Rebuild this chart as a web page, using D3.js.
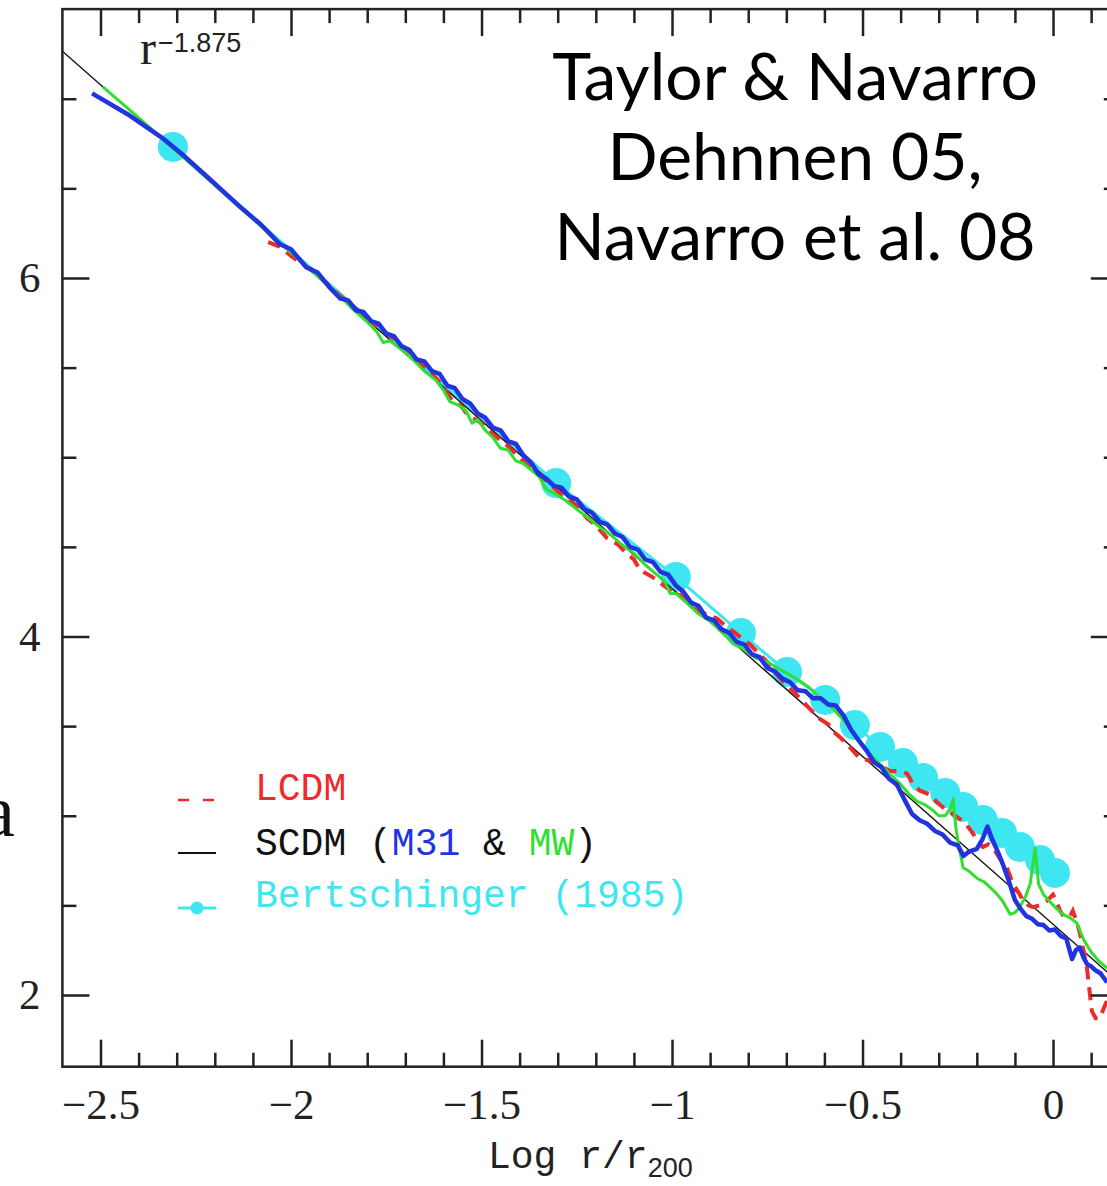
<!DOCTYPE html>
<html>
<head>
    <meta charset="utf-8">
    <title>density profile vs Log r/r200</title>
    <script src="https://cdn.jsdelivr.net/npm/d3@7"></script>
    <style>
        body { margin: 0; background: #fff; }
        svg { display: block; }
        .axis text {
            font-family: "Liberation Serif", serif;
            font-size: 43px;
            fill: #222;
        }
        .legend text {
            font-family: "Liberation Mono", monospace;
            font-size: 38px;
            white-space: pre;
        }
        .title {
            font-family: Lato, "Open Sans", sans-serif;
            font-size: 66px;
            fill: #000;
            text-anchor: middle;
        }
    </style>
</head>
<body>

<script>
    // Bertschinger (1985) self-similar solution
    var bertX = [-2.31, -1.304, -0.99, -0.819, -0.698, -0.598, -0.52, -0.454, -0.394, -0.341,
                 -0.283, -0.236, -0.184, -0.134, -0.087, -0.034, 0.005];
    var bertY = [6.731, 4.856, 4.332, 4.019, 3.802, 3.646, 3.506, 3.384, 3.294, 3.211,
                 3.127, 3.049, 2.976, 2.904, 2.826, 2.753, 2.681];

    // r^-1.875 power law
    var powerLaw = [[-2.6, 7.265], [0.17, 2.076]];

    // LCDM halo (red dashed)
    var lcdm = [[-2.06, 6.20], [-2.03, 6.175], [-1.995, 6.115], [-1.95, 6.05], [-1.906, 5.97], [-1.864, 5.89],
        [-1.83, 5.83], [-1.793, 5.76], [-1.76, 5.705], [-1.732, 5.665], [-1.70, 5.60], [-1.68, 5.555],
        [-1.64, 5.49], [-1.606, 5.41], [-1.575, 5.31], [-1.555, 5.29], [-1.538, 5.24], [-1.50, 5.19],
        [-1.47, 5.13], [-1.43, 5.06], [-1.40, 5.00], [-1.365, 4.925], [-1.33, 4.87], [-1.30, 4.81],
        [-1.276, 4.77], [-1.25, 4.725], [-1.223, 4.66], [-1.20, 4.62], [-1.171, 4.55], [-1.14, 4.51],
        [-1.118, 4.46], [-1.10, 4.43], [-1.084, 4.37], [-1.05, 4.33], [-1.013, 4.27], [-0.99, 4.25],
        [-0.971, 4.22], [-0.95, 4.18], [-0.927, 4.14], [-0.90, 4.115], [-0.882, 4.10], [-0.86, 4.06],
        [-0.84, 4.03], [-0.82, 3.995], [-0.795, 3.955], [-0.77, 3.90], [-0.751, 3.86], [-0.73, 3.80],
        [-0.709, 3.75], [-0.69, 3.71], [-0.664, 3.655], [-0.64, 3.60], [-0.612, 3.54], [-0.59, 3.51],
        [-0.577, 3.47], [-0.56, 3.44], [-0.541, 3.40], [-0.52, 3.35], [-0.507, 3.32], [-0.485, 3.31],
        [-0.462, 3.29], [-0.445, 3.27], [-0.428, 3.25], [-0.405, 3.25], [-0.383, 3.235], [-0.365, 3.17],
        [-0.349, 3.14], [-0.325, 3.12], [-0.304, 3.075], [-0.285, 3.04], [-0.27, 3.02], [-0.25, 2.99],
        [-0.236, 2.97], [-0.22, 2.93], [-0.21, 2.90], [-0.195, 2.85], [-0.184, 2.825], [-0.17, 2.84],
        [-0.157, 2.82], [-0.139, 2.76], [-0.121, 2.71], [-0.105, 2.62], [-0.09, 2.57], [-0.079, 2.53],
        [-0.065, 2.50], [-0.052, 2.49], [-0.035, 2.50], [-0.016, 2.525], [0.0, 2.56], [0.01, 2.52],
        [0.018, 2.47], [0.028, 2.44], [0.037, 2.45], [0.045, 2.44], [0.052, 2.47], [0.062, 2.41],
        [0.071, 2.34], [0.08, 2.25], [0.089, 2.15], [0.096, 2.02], [0.102, 1.91], [0.112, 1.87],
        [0.123, 1.87], [0.132, 1.92], [0.142, 1.97]];

    // SCDM M31 (blue)
    var m31 = [[-2.522, 7.03], [-2.43, 6.915], [-2.34, 6.785], [-2.28, 6.68], [-2.21, 6.545], [-2.13, 6.39],
        [-2.08, 6.30], [-2.03, 6.19], [-2.00, 6.16], [-1.96, 6.06], [-1.93, 6.03], [-1.90, 5.95],
        [-1.87, 5.885], [-1.85, 5.875], [-1.83, 5.82], [-1.81, 5.81], [-1.79, 5.76], [-1.77, 5.745],
        [-1.75, 5.69], [-1.73, 5.675], [-1.71, 5.62], [-1.69, 5.60], [-1.67, 5.545], [-1.65, 5.535],
        [-1.63, 5.48], [-1.61, 5.465], [-1.59, 5.40], [-1.57, 5.385], [-1.55, 5.325], [-1.53, 5.30],
        [-1.51, 5.245], [-1.49, 5.22], [-1.47, 5.165], [-1.45, 5.15], [-1.43, 5.09], [-1.41, 5.075],
        [-1.39, 5.01], [-1.37, 4.97], [-1.35, 4.905], [-1.33, 4.88], [-1.31, 4.84], [-1.29, 4.83],
        [-1.27, 4.78], [-1.25, 4.765], [-1.23, 4.71], [-1.21, 4.69], [-1.19, 4.64], [-1.17, 4.625],
        [-1.15, 4.575], [-1.13, 4.555], [-1.11, 4.50], [-1.09, 4.485], [-1.07, 4.43], [-1.05, 4.415],
        [-1.03, 4.36], [-1.01, 4.345], [-0.99, 4.285], [-0.97, 4.25], [-0.95, 4.19], [-0.93, 4.17],
        [-0.91, 4.105], [-0.89, 4.09], [-0.87, 4.04], [-0.85, 4.02], [-0.83, 3.97], [-0.81, 3.955],
        [-0.79, 3.90], [-0.77, 3.885], [-0.75, 3.825], [-0.73, 3.805], [-0.71, 3.765], [-0.69, 3.745],
        [-0.67, 3.70], [-0.65, 3.695], [-0.63, 3.655], [-0.61, 3.655], [-0.59, 3.62], [-0.57, 3.615],
        [-0.55, 3.56], [-0.53, 3.48], [-0.51, 3.42], [-0.49, 3.365], [-0.47, 3.30], [-0.45, 3.27],
        [-0.43, 3.205], [-0.41, 3.175], [-0.39, 3.09], [-0.37, 3.01], [-0.35, 2.975], [-0.33, 2.955],
        [-0.31, 2.915], [-0.29, 2.895], [-0.27, 2.85], [-0.25, 2.835], [-0.235, 2.775], [-0.22, 2.80],
        [-0.20, 2.815], [-0.185, 2.87], [-0.172, 2.94], [-0.16, 2.87], [-0.145, 2.80], [-0.13, 2.72],
        [-0.115, 2.63], [-0.10, 2.53], [-0.085, 2.48], [-0.07, 2.44], [-0.055, 2.425], [-0.04, 2.395],
        [-0.025, 2.39], [-0.01, 2.36], [0.005, 2.365], [0.02, 2.33], [0.035, 2.315], [0.05, 2.20],
        [0.06, 2.25], [0.07, 2.265], [0.08, 2.21], [0.09, 2.17], [0.10, 2.16], [0.11, 2.14],
        [0.125, 2.12], [0.142, 2.07]];

    // SCDM MW (green)
    var mw = [[-2.493, 7.065], [-2.40, 6.895], [-2.31, 6.725], [-2.22, 6.555], [-2.13, 6.385], [-2.05, 6.235],
        [-1.98, 6.105], [-1.92, 5.99], [-1.88, 5.92], [-1.84, 5.83], [-1.80, 5.755], [-1.775, 5.70],
        [-1.758, 5.64], [-1.74, 5.65], [-1.71, 5.60], [-1.68, 5.545], [-1.65, 5.48], [-1.62, 5.43],
        [-1.60, 5.375], [-1.583, 5.31], [-1.56, 5.29], [-1.54, 5.255], [-1.525, 5.19], [-1.51, 5.21],
        [-1.49, 5.15], [-1.47, 5.11], [-1.45, 5.05], [-1.43, 5.04], [-1.41, 4.98], [-1.39, 4.965],
        [-1.37, 4.93], [-1.35, 4.895], [-1.33, 4.82], [-1.31, 4.80], [-1.28, 4.76], [-1.25, 4.71],
        [-1.22, 4.66], [-1.19, 4.61], [-1.16, 4.565], [-1.13, 4.51], [-1.10, 4.465], [-1.07, 4.40],
        [-1.04, 4.345], [-1.02, 4.31], [-1.005, 4.24], [-0.99, 4.24], [-0.96, 4.185], [-0.93, 4.125],
        [-0.90, 4.085], [-0.87, 4.025], [-0.84, 3.965], [-0.81, 3.925], [-0.78, 3.88], [-0.751, 3.86],
        [-0.72, 3.82], [-0.69, 3.785], [-0.664, 3.75], [-0.64, 3.715], [-0.619, 3.675], [-0.60, 3.64],
        [-0.577, 3.595], [-0.555, 3.545], [-0.533, 3.49], [-0.51, 3.42], [-0.488, 3.36], [-0.46, 3.30],
        [-0.436, 3.25], [-0.42, 3.215], [-0.402, 3.18], [-0.38, 3.125], [-0.357, 3.08], [-0.335, 3.06],
        [-0.315, 3.03], [-0.30, 3.00], [-0.283, 3.00], [-0.27, 3.04], [-0.262, 3.095], [-0.255, 2.93],
        [-0.247, 2.83], [-0.236, 2.71], [-0.22, 2.69], [-0.199, 2.65], [-0.18, 2.63], [-0.165, 2.60],
        [-0.15, 2.57], [-0.131, 2.52], [-0.113, 2.45], [-0.10, 2.46], [-0.087, 2.49], [-0.072, 2.55],
        [-0.06, 2.62], [-0.047, 2.82], [-0.038, 2.62], [-0.025, 2.56], [-0.008, 2.52], [0.01, 2.48],
        [0.026, 2.45], [0.045, 2.43], [0.063, 2.40], [0.08, 2.31], [0.10, 2.24], [0.12, 2.19],
        [0.142, 2.15]];

    var xTicks = [-2.5, -2, -1.5, -1, -0.5, 0];
    var yTicks = [2, 4, 6];
    var titleLines = ['Taylor & Navarro', 'Dehnnen 05,', 'Navarro et al. 08'];

    var red = '#ee2b2b', blue = '#2233e0', green = '#2fe02f', cyan = '#3ee6f1', ink = '#222';

    var width = 1107, height = 1186;

    var svg = d3.select('body').append('svg')
        .attr('width', width)
        .attr('height', height);

    var x = d3.scaleLinear().domain([-2.6, 0.17]).range([62.4, 1117.8]);
    var y = d3.scaleLinear().domain([1.6, 7.5]).range([1066.7, 9.1]);

    var plotLeft = x.range()[0], plotRight = x.range()[1],
        plotTop = y.range()[1], plotBottom = y.range()[0];

    var xMinor = d3.range(-24, 2).map(function(i) { return i / 10; })
        .filter(function(v) { return Math.round(v * 10) % 5 !== 0; });
    var yMinor = d3.range(4, 15).map(function(i) { return i / 2; })
        .filter(function(v) { return v % 2 !== 0; });

    svg.append('clipPath').attr('id', 'plot')
        .append('rect')
        .attr('x', plotLeft).attr('y', plotTop)
        .attr('width', plotRight - plotLeft).attr('height', plotBottom - plotTop);

    // data
    var plot = svg.append('g').attr('clip-path', 'url(#plot)');
    var line = d3.line()
        .x(function(d) { return x(d[0]); })
        .y(function(d) { return y(d[1]); });

    var bert = bertX.map(function(v, i) { return [v, bertY[i]]; });

    plot.append('path')
        .datum(bert)
        .attr('d', line)
        .attr('fill', 'none')
        .attr('stroke', cyan)
        .attr('stroke-width', 3);

    plot.selectAll('circle.bert')
        .data(bert).enter()
        .append('circle')
        .attr('class', 'bert')
        .attr('cx', function(d) { return x(d[0]); })
        .attr('cy', function(d) { return y(d[1]); })
        .attr('r', 15)
        .attr('fill', cyan);

    plot.append('path')
        .datum(powerLaw)
        .attr('d', line)
        .attr('fill', 'none')
        .attr('stroke', '#111')
        .attr('stroke-width', 1.4);

    plot.append('path')
        .datum(lcdm)
        .attr('d', line)
        .attr('fill', 'none')
        .attr('stroke', red)
        .attr('stroke-width', 4)
        .attr('stroke-dasharray', '13,8');

    plot.append('path')
        .datum(mw)
        .attr('d', line)
        .attr('fill', 'none')
        .attr('stroke', green)
        .attr('stroke-width', 3)
        .attr('stroke-linejoin', 'round');

    plot.append('path')
        .datum(m31)
        .attr('d', line)
        .attr('fill', 'none')
        .attr('stroke', blue)
        .attr('stroke-width', 4.5)
        .attr('stroke-linejoin', 'round');

    // axes, ticks pointing inward on all four sides
    function drawAxis(axis, pos, values, size, labels) {
        var g = svg.append('g')
            .attr('class', 'axis')
            .attr('transform', pos)
            .call(axis.tickValues(values).tickSize(-size).tickPadding(22)
                .tickFormat(labels ? d3.format('~g') : ''));
        g.select('.domain').remove();
        g.attr('font-family', null).attr('font-size', null);
        g.selectAll('line').attr('stroke', ink).attr('stroke-width', 2.5);
        return g;
    }

    drawAxis(d3.axisBottom(x), 'translate(0,' + plotBottom + ')', xTicks, 27, true);
    drawAxis(d3.axisBottom(x), 'translate(0,' + plotBottom + ')', xMinor, 14, false);
    drawAxis(d3.axisTop(x), 'translate(0,' + plotTop + ')', xTicks, 27, false);
    drawAxis(d3.axisTop(x), 'translate(0,' + plotTop + ')', xMinor, 14, false);
    drawAxis(d3.axisLeft(y), 'translate(' + plotLeft + ',0)', yTicks, 27, true);
    drawAxis(d3.axisLeft(y), 'translate(' + plotLeft + ',0)', yMinor, 14, false);
    drawAxis(d3.axisRight(y), 'translate(' + plotRight + ',0)', yTicks, 27, false);
    drawAxis(d3.axisRight(y), 'translate(' + plotRight + ',0)', yMinor, 14, false);

    svg.append('rect')
        .attr('x', plotLeft).attr('y', plotTop)
        .attr('width', plotRight - plotLeft).attr('height', plotBottom - plotTop)
        .attr('fill', 'none')
        .attr('stroke', ink)
        .attr('stroke-width', 2.5);

    // x axis title
    var xt = svg.append('text')
        .attr('x', 488)
        .attr('y', 1168)
        .style('font-family', '"Liberation Mono", monospace')
        .style('font-size', '38px')
        .style('fill', ink);
    xt.append('tspan').text('Log r/r');
    xt.append('tspan')
        .attr('dy', 9)
        .style('font-family', '"Liberation Sans", sans-serif')
        .style('font-size', '27px')
        .text('200');

    // r^-1.875 annotation
    var pl = svg.append('text')
        .attr('x', 140)
        .attr('y', 64)
        .style('fill', ink);
    pl.append('tspan')
        .style('font-family', '"Liberation Serif", serif')
        .style('font-size', '48px')
        .text('r');
    pl.append('tspan')
        .attr('dx', 2)
        .attr('dy', -12)
        .style('font-family', '"Liberation Sans", sans-serif')
        .style('font-size', '27px')
        .text('\u22121.875');

    // letter cut off at the left edge, as in the source slide
    svg.append('text')
        .attr('x', -18)
        .attr('y', 836)
        .style('font-family', '"Liberation Serif", serif')
        .style('font-size', '74px')
        .style('fill', '#111')
        .text('a');

    // title block
    svg.selectAll('text.title')
        .data(titleLines).enter()
        .append('text')
        .attr('class', 'title')
        .attr('x', 795)
        .attr('y', function(d, i) { return 100 + i * 80; })
        .text(function(d) { return d; });

    // legend
    var legend = svg.append('g').attr('class', 'legend');

    legend.append('line')
        .attr('x1', 178).attr('x2', 216).attr('y1', 800).attr('y2', 800)
        .attr('stroke', red).attr('stroke-width', 2.5)
        .attr('stroke-dasharray', '11,14');
    legend.append('text')
        .attr('x', 255).attr('y', 800)
        .style('fill', red)
        .text('LCDM');

    legend.append('line')
        .attr('x1', 178).attr('x2', 216).attr('y1', 853).attr('y2', 853)
        .attr('stroke', '#111').attr('stroke-width', 2);
    var sc = legend.append('text')
        .attr('x', 255).attr('y', 855);
    [['SCDM (', '#111'], ['M31', blue], [' & ', '#111'], ['MW', green], [')', '#111']]
        .forEach(function(p) {
            sc.append('tspan').style('fill', p[1]).text(p[0]);
        });

    legend.append('line')
        .attr('x1', 178).attr('x2', 216).attr('y1', 908).attr('y2', 908)
        .attr('stroke', cyan).attr('stroke-width', 3);
    legend.append('circle')
        .attr('cx', 197).attr('cy', 908).attr('r', 6.5)
        .attr('fill', cyan);
    legend.append('text')
        .attr('x', 255).attr('y', 907)
        .style('fill', cyan)
        .text('Bertschinger (1985)');
</script>
</body>
</html>
